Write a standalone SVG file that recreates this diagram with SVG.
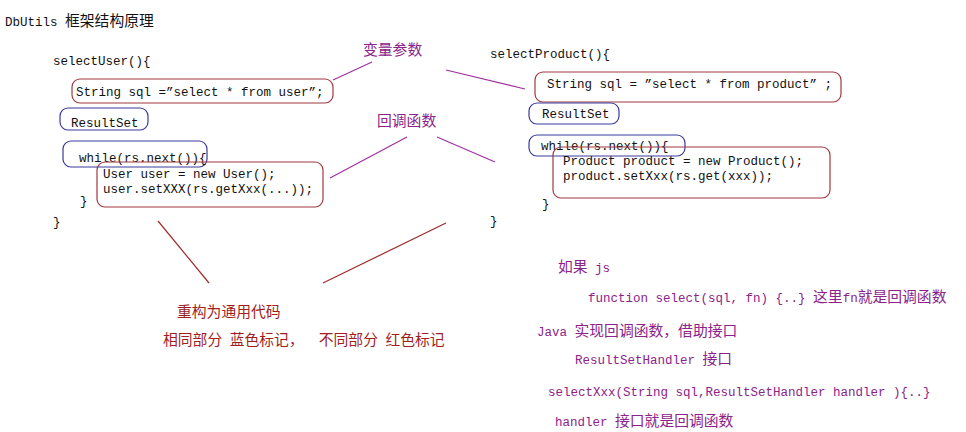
<svg xmlns="http://www.w3.org/2000/svg" width="966" height="432" viewBox="0 0 966 432">
<style>
text{font-family:"Liberation Mono","Noto Sans CJK SC",monospace;font-size:12.5px;white-space:pre;fill:#111}
.c{font-family:"Noto Sans CJK SC","Liberation Sans",sans-serif;font-size:14.8px}
.p{fill:#8B238B}
.r{fill:#A01E1E}
.rb{fill:none;stroke:#A0393E;stroke-width:1.2}
.bb{fill:none;stroke:#3A3A9E;stroke-width:1.2}
.pl{stroke:#A030A0;stroke-width:1.2}
.rl{stroke:#A02A2A;stroke-width:1.2}
</style>
<rect width="966" height="432" fill="#fff"/>
<text x="5" y="26">DbUtils <tspan class="c">框架结构原理</tspan></text>

<g id="selectUser">
<text x="53" y="65">selectUser(){</text>
<text x="53" y="226">}</text>
<text x="80" y="205">}</text>
</g>
<g id="userSql">
<rect class="rb" x="72" y="79" width="261" height="24" rx="8"/>
<text x="76" y="96">String sql =”select * from user”;</text>
</g>
<g id="userResultSet">
<rect class="bb" x="60" y="108" width="88" height="22" rx="8"/>
<text x="71" y="127">ResultSet</text>
</g>
<g id="userWhile">
<rect class="bb" x="63" y="141" width="144" height="26" rx="8"/>
<text x="79" y="162">while(rs.next()){</text>
</g>
<g id="userBody">
<rect class="rb" x="97" y="162" width="226" height="45" rx="8"/>
<text x="103" y="178">User user = new User();</text>
<text x="103" y="193">user.setXXX(rs.getXxx(...));</text>
</g>

<g id="selectProduct">
<text x="490" y="58">selectProduct(){</text>
<text x="542" y="208">}</text>
<text x="490" y="225">}</text>
</g>
<g id="productSql">
<rect class="rb" x="535" y="72" width="306" height="30" rx="8"/>
<text x="547" y="88">String sql = ”select * from product” ;</text>
</g>
<g id="productResultSet">
<rect class="bb" x="529" y="103" width="90" height="21" rx="8"/>
<text x="542" y="118">ResultSet</text>
</g>
<g id="productWhile">
<rect class="bb" x="529" y="135" width="156" height="21" rx="8"/>
<text x="541" y="150">while(rs.next()){</text>
</g>
<g id="productBody">
<rect class="rb" x="553" y="147" width="277" height="51" rx="8"/>
<text x="563" y="165">Product product = new Product();</text>
<text x="563" y="180">product.setXxx(rs.get(xxx));</text>
</g>

<g id="labelVar"><text class="c p" x="363" y="55">变量参数</text></g>
<g id="labelCallback"><text class="c p" x="377" y="126">回调函数</text></g>
<g id="labelRefactor">
<text class="c r" x="177" y="317">重构为通用代码</text>
<text class="r" x="163" y="345"><tspan class="c">相同部分</tspan> <tspan class="c">蓝色标记，</tspan>  <tspan class="c">不同部分</tspan> <tspan class="c">红色标记</tspan></text>
</g>

<g id="notes">
<text class="p" x="558" y="272"><tspan class="c">如果</tspan> js</text>
<text class="p" x="588" y="302">function select(sql, fn) {..} <tspan class="c">这里</tspan>fn<tspan class="c">就是回调函数</tspan></text>
<text class="p" x="537" y="336">Java <tspan class="c">实现回调函数，借助接口</tspan></text>
<text class="p" x="575" y="364">ResultSetHandler <tspan class="c">接口</tspan></text>
<text class="p" x="548" y="396">selectXxx(String sql,ResultSetHandler handler ){..}</text>
<text class="p" x="555" y="426">handler <tspan class="c">接口就是回调函数</tspan></text>
</g>

<g id="connectors">
<line class="pl" x1="333" y1="80" x2="372" y2="62"/>
<line class="pl" x1="446" y1="70" x2="525" y2="89"/>
<line class="pl" x1="330" y1="178" x2="407" y2="137"/>
<line class="pl" x1="437" y1="137" x2="495" y2="162"/>
<line class="rl" x1="158" y1="221" x2="209" y2="283"/>
<line class="rl" x1="323" y1="283" x2="446" y2="223"/>
</g>
</svg>
